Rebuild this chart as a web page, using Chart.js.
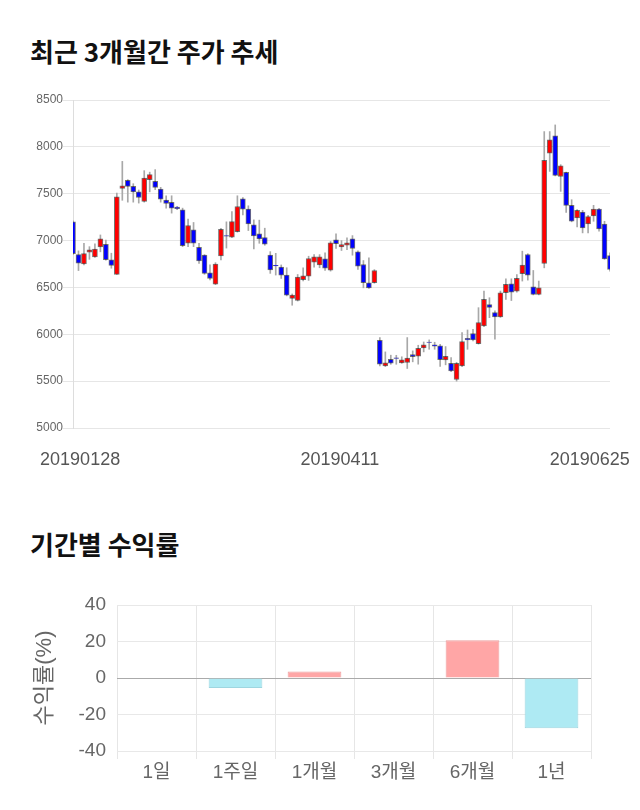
<!DOCTYPE html>
<html>
<head>
<meta charset="utf-8">
<script src="https://cdn.jsdelivr.net/npm/chart.js@4/dist/chart.umd.min.js"></script>
<style>
  html,body{margin:0;padding:0;background:#fff;}
  body{width:640px;height:810px;position:relative;overflow:hidden;font-family:'Noto Sans CJK KR','Noto Sans',sans-serif;}
  h2{position:absolute;left:30px;margin:0;font-size:26px;line-height:26px;font-weight:700;color:#111;white-space:nowrap;}
  #t1{top:38px;}
  #t2{top:531px;}
  #c1{position:absolute;left:0;top:80px;}
  #c2{position:absolute;left:0;top:590px;}
</style>
</head>
<body>
<h2 id="t1">최근 3개월간 주가 추세</h2>
<h2 id="t2">기간별 수익률</h2>
<canvas id="c1" width="640" height="400"></canvas>
<canvas id="c2" width="640" height="200"></canvas>
<script>
// ---- daily candles (KRW) ----
const opens  = [7200,6850,6750,6875,6825,6932,6960,6795,6640,7557,7643,7578,7520,7418,7650,7632,7550,7432,7407,7357,
                7328,6971,7114,6929,6846,6657,6536,6836,7052,7036,7096,7446,7336,7168,7071,7032,6846,6735,6718,6631,
                6383,6362,6582,6620,6770,6741,6805,6684,7007,6933,6950,7018,6879,6745,6550,6550,5936,5663,5734,5748,
                5695,5699,5784,5766,5855,5917,5887,5876,5727,5691,5518,5663,5957,6007,5901,6089,6316,6231,6184,6443,
                6539,6461,6646,6851,6507,6426,6755,7933,8117,7684,7727,7376,7241,7305,7177,7262,7337,7177,6840];
const closes = [6860,6760,6860,6900,6910,7018,6795,6735,7468,7585,7578,7518,7460,7668,7704,7568,7443,7396,7346,7340,
                6946,7161,6971,6782,6650,6596,6750,7121,7048,7203,7364,7336,7178,7050,7018,6961,6686,6730,6632,6418,
                6418,6610,6624,6809,6826,6826,6706,6975,6968,6957,6975,6915,6727,6550,6496,6681,5681,5695,5691,5742,
                5727,5745,5762,5851,5887,5913,5872,5730,5766,5610,5691,5922,5940,5940,6124,6372,6287,6184,6443,6532,
                6450,6596,6738,6631,6426,6497,7855,8074,7695,7798,7376,7206,7323,7135,7255,7337,7124,6805,6692];
const highs  = [7210,6890,6970,6935,6965,7060,7005,6865,7507,7845,7650,7607,7540,7746,7730,7757,7568,7478,7478,7365,
                7346,7228,7193,6971,6850,6740,6764,7130,7200,7310,7478,7460,7371,7221,7218,7132,6882,6864,6740,6710,
                6430,6638,6709,6833,6850,6850,6869,6990,7071,7000,7028,7053,6890,6787,6816,6690,5965,5812,5777,5776,
                5760,5965,5823,5883,5918,5940,5915,5894,5869,5752,5700,6018,6046,6053,6284,6461,6390,6250,6461,6592,
                6592,6638,6887,6860,6681,6568,8163,8163,8234,7810,7730,7436,7330,7323,7270,7376,7345,7206,6869];
const lows   = [6850,6680,6740,6800,6820,6880,6790,6705,6640,7430,7410,7410,7400,7410,7520,7543,7410,7346,7293,7330,
                6935,6935,6935,6757,6640,6580,6530,6793,6920,7030,7090,7275,7107,6911,6971,6950,6650,6632,6596,6410,
                6310,6355,6570,6575,6716,6710,6681,6674,6915,6894,6904,6844,6691,6496,6490,6545,5663,5655,5680,5680,
                5690,5635,5706,5681,5812,5840,5840,5656,5674,5600,5500,5655,5840,5930,5895,6080,6177,5947,6180,6372,
                6360,6450,6568,6578,6420,6420,6709,7738,7690,7525,7301,7200,7145,7082,7082,7206,7099,6800,6674];
const tickLabels = ['20190128','20190411','20190625'];
const tickIndex  = [0, 49, 98];

// ---- period returns (%) ----
const periods = ['1일','1주일','1개월','3개월','6개월','1년'];
const returns = [0, -5.5, 3.5, 0, 20.7, -27.6];

// ---- styling ----
const FONT = "'Liberation Sans','Noto Sans CJK KR',sans-serif";
const tickShift = [1.3, -0.3, -3.7];
Chart.defaults.font.family = FONT;

const bodies = opens.map((o, i) => ({x: i, y: [o, closes[i]]}));
const wicks  = lows.map((l, i) => ({x: i, y: [l, highs[i]]}));
const bodyFill = opens.map((o, i) => closes[i] > o ? '#ff0000' : (closes[i] < o ? '#0000ff' : '#333333'));

new Chart(document.getElementById('c1'), {
  type: 'bar',
  data: {
    datasets: [
      {data: bodies, backgroundColor: bodyFill, borderColor: 'rgba(0,0,0,0.55)', borderWidth: 1,
       borderSkipped: false, barThickness: 5, grouped: false, order: 0},
      {data: wicks, backgroundColor: '#a8a8a8', borderWidth: 0, barThickness: 1, grouped: false, order: 1}
    ]
  },
  options: {
    responsive: false, animation: false, devicePixelRatio: 1,
    layout: {padding: {left: 0, right: 30, top: 20, bottom: 0}},
    plugins: {legend: {display: false}, tooltip: {enabled: false}},
    scales: {
      x: {
        type: 'linear', min: 0, max: 98, offset: false,
        grid: {display: false, drawTicks: false}, border: {display: false},
        afterBuildTicks: s => { s.ticks = tickIndex.map((v, k) => ({value: v + tickShift[k]})); },
        ticks: {autoSkip: false, maxRotation: 0, padding: 21, font: {size: 18}, color: '#555',
                callback: (v, i) => tickLabels[i]},
        afterFit: s => { s.height = 52; s.paddingLeft = 0; s.paddingRight = 0; }
      },
      y: {
        min: 5000, max: 8500,
        ticks: {stepSize: 500, font: {size: 12}, color: '#666', padding: 0, callback: v => String(v)},
        grid: {color: '#e6e6e6', tickLength: 10},
        border: {color: '#dddddd'},
        afterFit: s => { s.width = 73; s.paddingTop = 0; s.paddingBottom = 0; }
      }
    }
  }
});

new Chart(document.getElementById('c2'), {
  type: 'bar',
  data: {
    labels: periods,
    datasets: [{
      data: returns,
      backgroundColor: returns.map(v => v >= 0 ? '#ffa6a6' : '#aeeaf3'),
      borderColor: returns.map(v => v >= 0 ? '#eea0a0' : '#9ed6e0'),
      borderWidth: 1, barPercentage: 0.85, categoryPercentage: 0.8
    }]
  },
  options: {
    responsive: false, animation: false, devicePixelRatio: 1,
    layout: {padding: {left: 30, right: 49, top: 15, bottom: 0}},
    plugins: {legend: {display: false}, tooltip: {enabled: false}},
    scales: {
      x: {
        grid: {color: '#e6e6e6', tickLength: 8, offset: true},
        border: {display: false},
        ticks: {font: {size: 19}, color: '#666', padding: 2},
        afterFit: s => { s.height = 39; s.paddingLeft = 0; s.paddingRight = 0; }
      },
      y: {
        min: -40, max: 40,
        ticks: {stepSize: 20, font: {size: 19}, color: '#666', padding: 11},
        grid: {drawTicks: false, color: c => (c.tick && c.tick.value === 0) ? '#aaaaaa' : '#e8e8e8'},
        border: {display: false},
        title: {display: true, text: '수익률(%)', font: {size: 22}, color: '#666', padding: {top: 2, bottom: 2}},
        afterFit: s => { s.width = 87; s.paddingTop = 0; s.paddingBottom = 0; }
      }
    }
  }
});
</script>
</body>
</html>
